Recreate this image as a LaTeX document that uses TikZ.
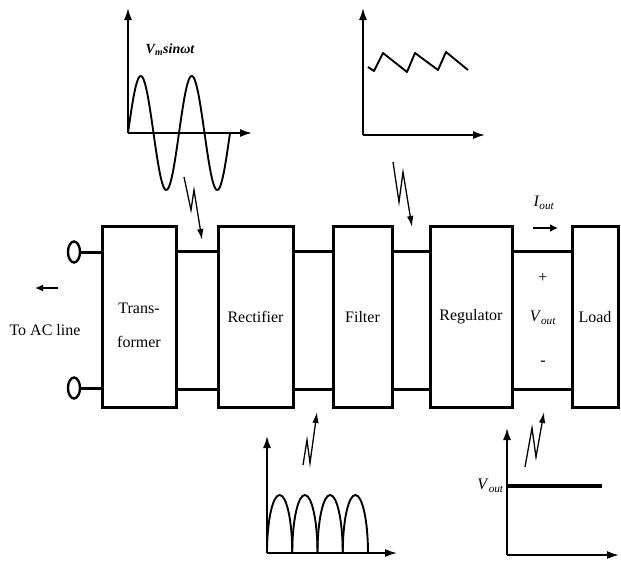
\documentclass[tikz,border=0pt]{standalone}
\usepackage{fontspec}
\setmainfont{Liberation Serif}
\usetikzlibrary{shapes,arrows,positioning,calc,arrows.meta}

\begin{document}
\begin{tikzpicture}[x=1pt,y=-1pt,
    block/.style={draw, line width=3pt, minimum height=181pt, inner sep=0pt, align=center, font=\fontsize{16}{17}\selectfont},
    wire/.style={line width=3pt},
    term/.style={draw, ellipse, line width=2.4pt, minimum width=12pt, minimum height=21pt, inner sep=0pt},
    axis/.style={line width=1.7pt, -{Latex[length=12pt,width=8pt]}},
    wave/.style={line width=1.9pt},
    bolt/.style={line width=1.3pt, -{Latex[length=11pt,width=6.5pt]}},
    lbl/.style={inner sep=0pt, font=\fontsize{16}{17}\selectfont}]
    \useasboundingbox (0,0) rectangle (621,563);

    % Blocks
    \node [block, minimum width=74pt] (trans) at (139,317) {};
    \node [lbl, align=center] (translbl) at (139,325) {Trans-\\[17pt]former};
    \node [block, minimum width=75pt] (rect) at (255.5,317) {Rectifier};
    \node [block, minimum width=59pt] (filt) at (362.5,317) {Filter};
    \node [block, minimum width=82pt] (reg) at (471,317) {Regulator};
    \node [block, minimum width=46pt] (load) at (595,317) {Load};

    % Wires between blocks
    \coordinate (top) at (0,251);
    \coordinate (bot) at (0,389);
    \foreach \a/\b in {trans/rect, rect/filt, filt/reg, reg/load} {
        \draw [wire] (\a.east |- top) -- (\b.west |- top);
        \draw [wire] (\a.east |- bot) -- (\b.west |- bot);
    }

    % AC line terminals
    \node [term] (in1) at (74,252) {};
    \node [term] (in2) at (74,388) {};
    \draw [wire] (in1.east) -- (trans.west |- in1);
    \draw [wire] (in2.east) -- (trans.west |- in2);
    \node [lbl] (acline) at (45,330) {To AC line};
    \coordinate (acarrow) at (58,288);
    \draw [line width=2pt, -{Latex[length=8pt,width=7pt]}] (acarrow) -- ++(-23,0);

    % Output
    \node [lbl] (plus) at (543,278) {+};
    \node [lbl] (vout) at (543,318) {\textit{V}\textsubscript{\textit{out}}};
    \node [lbl] (minus) at (543,363) {-};
    \node [lbl] (iout) at (544,203) {\textit{I}\textsubscript{\textit{out}}};
    \coordinate (iarrow) at (533,228);
    \draw [line width=2.2pt, -{Latex[length=8pt,width=8pt]}] (iarrow) -- ++(25,0);

    % Sine wave (transformer output)
    \draw [axis] (128,133) -- (128,8);
    \draw [axis] (128,133) -- (252,133);
    \draw [wave, domain=0:102, samples=120, smooth] plot ({128+\x},{133-57*sin(\x*7.0588)});
    \node [lbl, font=\fontsize{14}{15}\selectfont\bfseries\itshape] (vm) at (170,50) {V\textsubscript{m}sinωt};

    % Ripple (filter output)
    \draw [axis] (363,135) -- (363,8);
    \draw [axis] (363,135) -- (485,135);
    \draw [wave, line join=round] (368,67) -- (374,71) -- (383,53) -- (407,72) -- (415,53) -- (438,70) -- (446,52) -- (468,70);

    % Full-wave rectified (rectifier output)
    \draw [axis] (267,553) -- (267,436);
    \draw [axis] (267,553) -- (397,553);
    \foreach \i in {0,...,3}
        \draw [wave] (267+25.25*\i,553) arc (180:360:12.625 and 58);

    % DC level (regulator output)
    \draw [axis] (507,555) -- (507,428);
    \draw [axis] (507,555) -- (619,555);
    \draw [line width=4pt] (507,486) -- (602,486);
    \node [lbl, anchor=east] (vdc) at (504,486) {\textit{V}\textsubscript{\textit{out}}};

    % Probe arrows
    \draw [bolt] (184,177) -- (191,210) -- (194,190) -- (202,240);
    \draw [bolt] (393,162) -- (399,202) -- (403,172) -- (412,227);
    \draw [bolt] (303,465) -- (307,440) -- (310,463) -- (317,412);
    \draw [bolt] (525,467) -- (532,428) -- (536,457) -- (544,412);
\end{tikzpicture}
\end{document}
